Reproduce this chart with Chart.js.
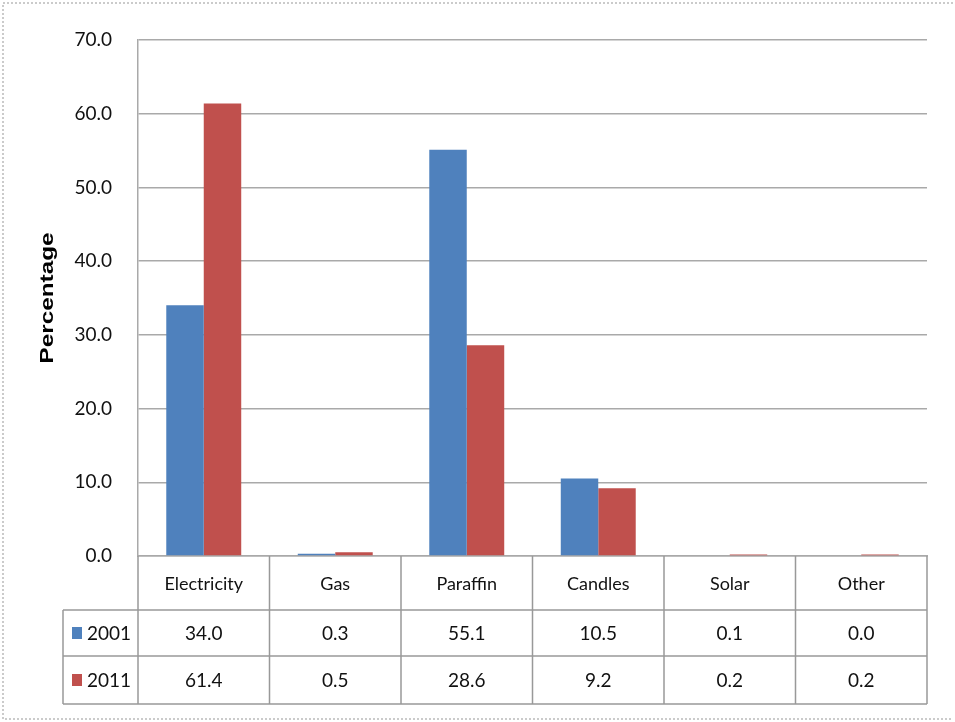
<!DOCTYPE html>
<html>
<head>
<meta charset="utf-8">
<script src="https://cdn.jsdelivr.net/npm/chart.js@4/dist/chart.umd.min.js"></script>
<style>
  html, body { margin: 0; padding: 0; background: #fff; }
  #chart { display: block; }
</style>
</head>
<body>
<canvas id="chart" width="955" height="722"></canvas>
<script>
// Data
const categories = ['Electricity', 'Gas', 'Paraffin', 'Candles', 'Solar', 'Other'];
const seriesNames = ['2001', '2011'];
const values2001 = [34.0, 0.3, 55.1, 10.5, 0.1, 0.0];
const values2011 = [61.4, 0.5, 28.6, 9.2, 0.2, 0.2];
const yTicks = [0, 10, 20, 30, 40, 50, 60, 70];
const yTitle = 'Percentage';

const COLORS = ['#4F81BD', '#C0504D'];
const GRID = '#a9a9a9';
const TEXT = '#111';
const FONT = 'Lato, "Noto Sans", sans-serif';

// Data table under the plot + y title + frame
const dataTablePlugin = {
  id: 'dataTable',
  afterDraw(chart) {
    const ctx = chart.ctx;
    const xs = chart.scales.x;
    const area = chart.chartArea;
    const n = categories.length;
    const colW = (xs.right - xs.left) / n;
    const top = area.bottom;
    const rowY = [top, top + 54, top + 100, top + 148];
    const legendLeft = 63;
    const rows = [values2001, values2011];

    ctx.save();
    ctx.strokeStyle = '#999';
    ctx.lineWidth = 1.5;

    // horizontal lines
    ctx.beginPath();
    for (let r = 1; r < rowY.length; r++) {
      ctx.moveTo(legendLeft, rowY[r]);
      ctx.lineTo(xs.right, rowY[r]);
    }
    // vertical lines
    for (let i = 0; i <= n; i++) {
      const x = xs.left + i * colW;
      ctx.moveTo(x, rowY[0]);
      ctx.lineTo(x, rowY[3]);
    }
    ctx.moveTo(legendLeft, rowY[1]);
    ctx.lineTo(legendLeft, rowY[3]);
    ctx.stroke();

    // values + legend keys
    ctx.font = '19px ' + FONT;
    ctx.fillStyle = TEXT;
    ctx.textBaseline = 'middle';
    rows.forEach((vals, r) => {
      const cy = (rowY[r + 1] + rowY[r + 2]) / 2 + 1;
      ctx.fillStyle = COLORS[r];
      ctx.fillRect(legendLeft + 9, cy - 7, 10, 12);
      ctx.fillStyle = TEXT;
      ctx.textAlign = 'left';
      ctx.fillText(seriesNames[r], legendLeft + 24, cy);
      ctx.textAlign = 'center';
      vals.forEach((v, i) => {
        ctx.fillText(v.toFixed(1), xs.getPixelForValue(i), cy);
      });
    });

    // y axis title (stretched like the original)
    ctx.save();
    ctx.translate(48, (area.top + area.bottom) / 2);
    ctx.rotate(-Math.PI / 2);
    ctx.scale(1.35, 1);
    ctx.font = 'bold 18px "Liberation Sans", Arial, sans-serif';
    ctx.fillStyle = '#000';
    ctx.textAlign = 'center';
    ctx.textBaseline = 'middle';
    ctx.fillText(yTitle, 0, 0);
    ctx.restore();

    // outer frame
    ctx.strokeStyle = '#bbb';
    ctx.lineWidth = 1.5;
    ctx.setLineDash([2, 2]);
    ctx.beginPath();
    ctx.moveTo(953, 3);
    ctx.lineTo(3, 3);
    ctx.lineTo(3, 719);
    ctx.lineTo(953, 719);
    ctx.stroke();
    ctx.restore();
  }
};

new Chart(document.getElementById('chart'), {
  type: 'bar',
  data: {
    labels: categories,
    datasets: [
      { label: seriesNames[0], data: values2001, backgroundColor: COLORS[0] },
      { label: seriesNames[1], data: values2011, backgroundColor: COLORS[1] }
    ]
  },
  options: {
    responsive: false,
    animation: false,
    categoryPercentage: 0.57,
    barPercentage: 1.0,
    layout: { padding: { top: 40, right: 28, bottom: 112, left: 0 } },
    plugins: {
      legend: { display: false },
      tooltip: { enabled: false },
      title: { display: false }
    },
    scales: {
      x: {
        grid: { display: false },
        border: { display: true, color: GRID, width: 1.5 },
        ticks: { font: { family: FONT, size: 18 }, color: TEXT, padding: 9, maxRotation: 0 },
        afterFit: s => { s.height = 54; }
      },
      y: {
        min: yTicks[0],
        max: yTicks[yTicks.length - 1],
        afterBuildTicks: s => { s.ticks = yTicks.map(v => ({ value: v })); },
        grid: { color: GRID, lineWidth: 1.5, drawTicks: false },
        border: { display: true, color: GRID, width: 1.5 },
        ticks: {
          font: { family: FONT, size: 19 },
          color: TEXT,
          padding: 26,
          callback: v => Number(v).toFixed(1)
        },
        afterFit: s => { s.width = 138; }
      }
    }
  },
  plugins: [dataTablePlugin]
});
</script>
</body>
</html>
